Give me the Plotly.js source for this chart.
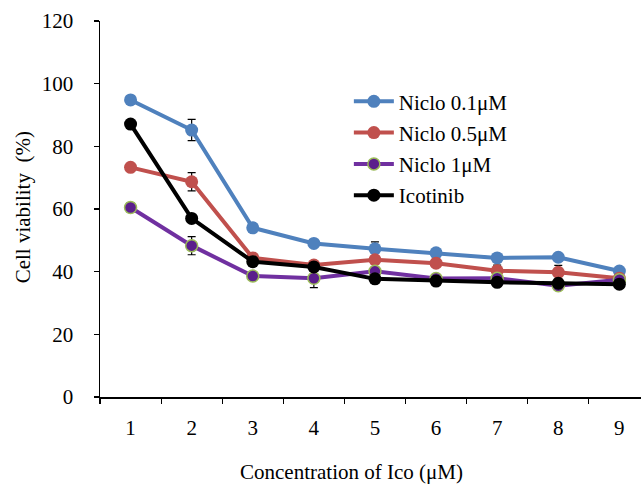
<!DOCTYPE html>
<html>
<head>
<meta charset="utf-8">
<script src="https://cdn.plot.ly/plotly-3.0.1.min.js"></script>
<style>html,body{margin:0;padding:0;background:#fff;}#chart{width:641px;height:484px;}</style>
</head>
<body>
<div id="chart"></div>
<script>
const categories = ['1','2','3','4','5','6','7','8','9'];
const niclo01 = [94.8, 85.2, 54.0, 49.0, 47.3, 46.0, 44.4, 44.6, 40.2];
const niclo01Err = [0, 3.4, 0, 0.8, 2.2, 0, 0, 0, 0];
const niclo05 = [73.3, 68.7, 44.4, 42.1, 43.8, 42.7, 40.3, 39.8, 37.9];
const niclo05Err = [0, 2.9, 0, 0, 0, 0, 1.8, 2.2, 0];
const niclo1 = [60.5, 48.3, 38.6, 37.9, 40.1, 37.8, 37.9, 35.5, 37.4];
const niclo1Err = [1.5, 2.9, 1.2, 3.0, 1.0, 0, 0, 0, 0];
const icotinib = [87.1, 57.0, 43.2, 41.5, 37.7, 37.0, 36.6, 36.3, 36.0];
const seriesNames = ['Niclo 0.1\u03bcM', 'Niclo 0.5\u03bcM', 'Niclo 1\u03bcM', 'Icotinib'];
const yTicks = [0, 20, 40, 60, 80, 100, 120];

const font = 'Liberation Serif, Times New Roman, serif';
const fs = 21;
function tr(y, err, name, color, marker, grp) {
  const t = {
    x: categories, y: y, name: name, type: 'scatter', mode: 'lines+markers',
    legendgroup: grp,
    line: {color: color, width: 4},
    marker: marker
  };
  if (err) t.error_y = {type: 'data', array: err, visible: true, color: '#000', thickness: 1.2, width: 4};
  return t;
}
const data = [
  tr(niclo01, niclo01Err, seriesNames[0], '#4F81BD', {size: 13, color: '#4F81BD'}, 'a'),
  tr(niclo05, niclo05Err, seriesNames[1], '#C0504D', {size: 13, color: '#C0504D'}, 'b'),
  tr(niclo1, niclo1Err, seriesNames[2], '#7030A0', {size: 12, color: '#5B1E8C', line: {color: '#9BBB59', width: 1.5}}, 'c'),
  tr(icotinib, null, seriesNames[3], '#000000', {size: 13, color: '#000000'}, 'd')
];

const layout = {
  width: 641, height: 484,
  margin: {l: 100, r: 0, t: 21, b: 87},
  paper_bgcolor: '#fff', plot_bgcolor: '#fff',
  font: {family: font, size: fs, color: '#000'},
  showlegend: true,
  legend: {x: 0.46, y: 0.84, xanchor: 'left', yanchor: 'top', bgcolor: 'rgba(0,0,0,0)',
           itemwidth: 40,
           font: {family: font, size: fs, color: '#000'}, tracegroupgap: 1},
  xaxis: {
    type: 'category', range: [-0.5, 8.354], tickson: 'boundaries',
    showline: true, linecolor: '#000', linewidth: 1.5,
    ticks: 'outside', ticklen: 5, tickcolor: '#000', tickwidth: 1.2,
    showgrid: false, zeroline: false, ticklabelstandoff: 11,
    tickfont: {family: font, size: fs}
  },
  yaxis: {
    range: [0, 120], tickvals: yTicks, ticktext: yTicks.map(String),
    showline: true, linecolor: '#000', linewidth: 1.5,
    ticks: 'outside', ticklen: 5, tickcolor: '#000', tickwidth: 1.2,
    showgrid: false, zeroline: false, ticklabelstandoff: 16,
    tickfont: {family: font, size: fs}
  },
  annotations: [
    {text: 'Cell viability  (%)', xref: 'paper', yref: 'paper', x: -0.142, y: 0.505,
     xanchor: 'center', yanchor: 'middle', textangle: -90, showarrow: false,
     font: {family: font, size: fs}},
    {text: 'Concentration of Ico (\u03bcM)', xref: 'paper', yref: 'paper', x: 0.464, y: -0.2,
     xanchor: 'center', yanchor: 'middle', showarrow: false, font: {family: font, size: fs}}
  ]
};
Plotly.newPlot('chart', data, layout, {displayModeBar: false, staticPlot: true});
</script>
</body>
</html>
